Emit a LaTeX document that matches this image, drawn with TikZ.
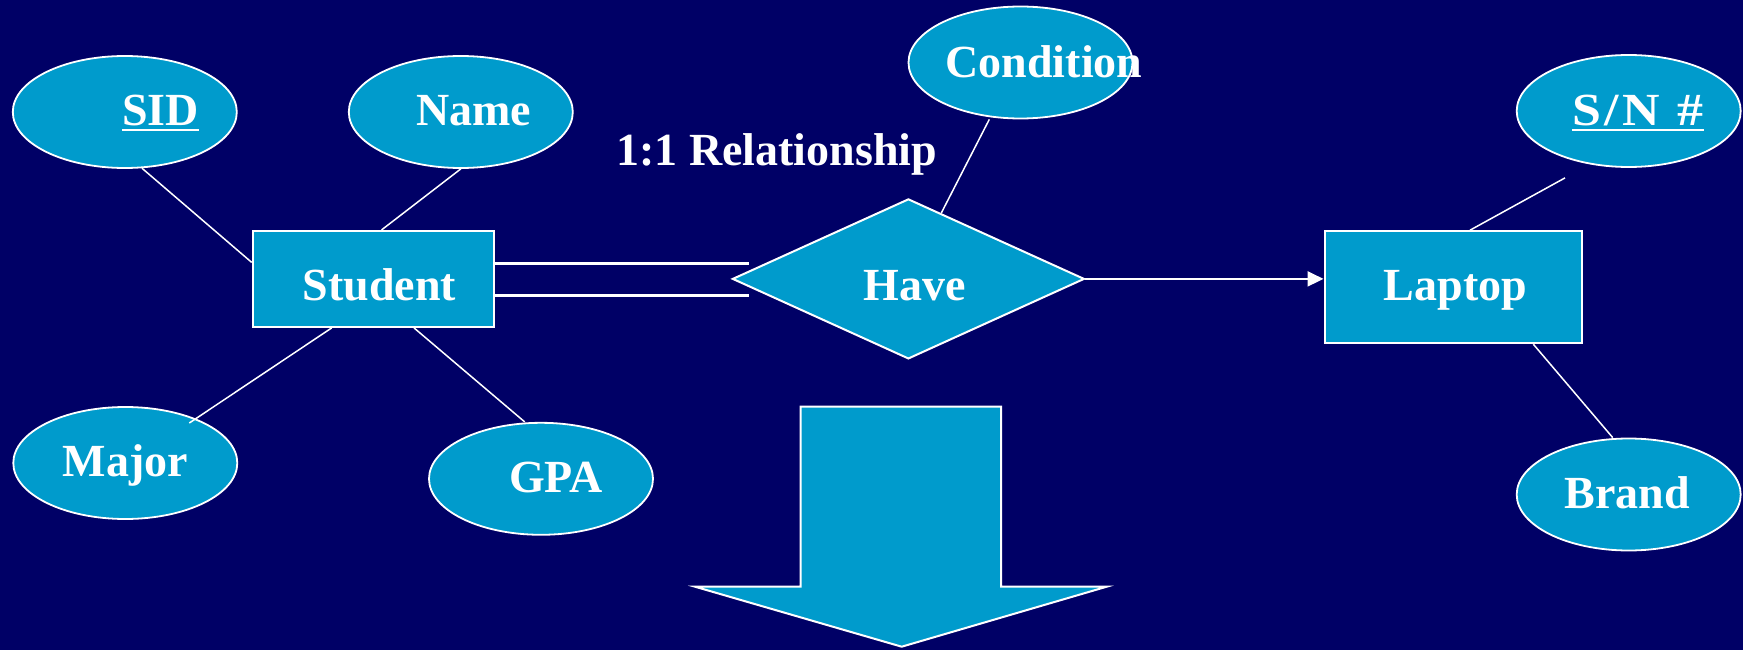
\documentclass[tikz,border=0pt]{standalone}
\usepackage{fontspec}
\usepackage{graphicx}
\setmainfont{Liberation Serif}
\usetikzlibrary{shapes.geometric,arrows.meta,calc}
\definecolor{slidebg}{RGB}{0,0,102}
\definecolor{erfill}{RGB}{0,155,204}
\begin{document}
\begin{tikzpicture}[x=1pt,y=-1pt,
  attr/.style={ellipse,draw=white,line width=1.8pt,fill=erfill,
    minimum width=224pt,minimum height=112pt,inner sep=0pt},
  entity/.style={rectangle,draw=white,line width=2pt,fill=erfill,inner sep=0pt},
  relship/.style={diamond,draw=white,line width=2pt,fill=erfill,inner sep=0pt,
    minimum width=352pt,minimum height=160pt},
  lbl/.style={text=white,font=\bfseries\fontsize{46}{55}\selectfont,
    inner sep=0pt,anchor=base},
  link/.style={draw=white,line width=1.5pt},
  uline/.style={draw=white,line width=2.6pt}]
% slide background
\fill[slidebg] (0,0) rectangle (1743,650);
\useasboundingbox (0,0) rectangle (1743,650);

% entities, relationship, attributes
\node[entity,minimum width=241pt,minimum height=96pt] (student) at (373.2,278.9) {};
\node[entity,minimum width=257pt,minimum height=112pt] (laptop) at (1453,287.2) {};
\node[relship] (have) at (908.4,278.9) {};
\node[attr] (sid) at (124.8,112) {};
\node[attr] (name) at (460.8,112) {};
\node[attr] (major) at (125.3,463) {};
\node[attr] (gpa) at (541,478.8) {};
\node[attr] (cond) at (1020.5,62.5) {};
\node[attr] (sn) at (1628.7,111) {};
\node[attr] (brand) at (1628.7,494.5) {};

% labels
\node[lbl] (sidT) at (160.7,126) {SID};
\node[lbl] (nameT) at (473.6,126) {Name};
\node[lbl] (studentT) at (379.5,300.7) {Student};
\node[lbl] (haveT) at (915,300.7) {Have};
\node[lbl] (condT) at (1044,77.3) {Condition};
\node[lbl] (relT) at (776.8,165.7) {1:1 Relationship};
\node[lbl] (laptopT) at (1455.5,300.7) {Laptop};
\node[lbl] (snT) at (1638,126) {\scalebox{1.13}[1]{S\kern3pt/\kern3pt N\hspace{16pt}\#}};
\node[lbl] (majorT) at (125.3,476.7) {Major};
\node[lbl] (gpaT) at (556,492.7) {GPA};
\node[lbl] (brandT) at (1627,508) {Brand};

% key attributes are underlined
\draw[uline] ([yshift=-4pt]sidT.base west) -- ([yshift=-4pt]sidT.base east);
\draw[uline] ([yshift=-4pt]snT.base west) -- ([yshift=-4pt]snT.base east);

% attribute links
\draw[link] (sid.-73) -- ([yshift=16.5pt]student.west);
\draw[link] (name.south) -- ([xshift=8.4pt]student.north);
\draw[link] ([xshift=-41.5pt]student.south) -- ([xshift=64pt,yshift=40pt]major.center);
\draw[link] ([xshift=40.8pt]student.south) -- ([xshift=-16.3pt]gpa.north);
\draw[link] ([xshift=-31.2pt]cond.south) -- ($(have.north)!0.186!(have.east)$);
\draw[link] ([xshift=-63.7pt,yshift=-10pt]sn.south) -- ([xshift=17pt]laptop.north);
\draw[link] ([xshift=80.3pt]laptop.south) -- ([xshift=-16pt]brand.north);

% total participation: double line from Student
\coordinate (dlA) at (748.6,263.3);
\coordinate (dlB) at (748.6,295.3);
\draw[white,line width=2.7pt] (student.east |- dlA) -- (dlA);
\draw[white,line width=2.7pt] (student.east |- dlB) -- (dlB);

% one-side arrow to Laptop
\draw[white,line width=2pt,-{Triangle[length=16pt,width=15pt]}]
  (have.east) -- (have.east -| laptop.west);

% block arrow pointing down
\draw[white,line width=2pt,fill=erfill,line join=miter]
  (800.7,406.7) -- (1001,406.7) -- (1001,586.7) -- (1106.7,586.7)
  -- (901.7,646.7) -- (695,586.7) -- (800.7,586.7) -- cycle;
\end{tikzpicture}
\end{document}
